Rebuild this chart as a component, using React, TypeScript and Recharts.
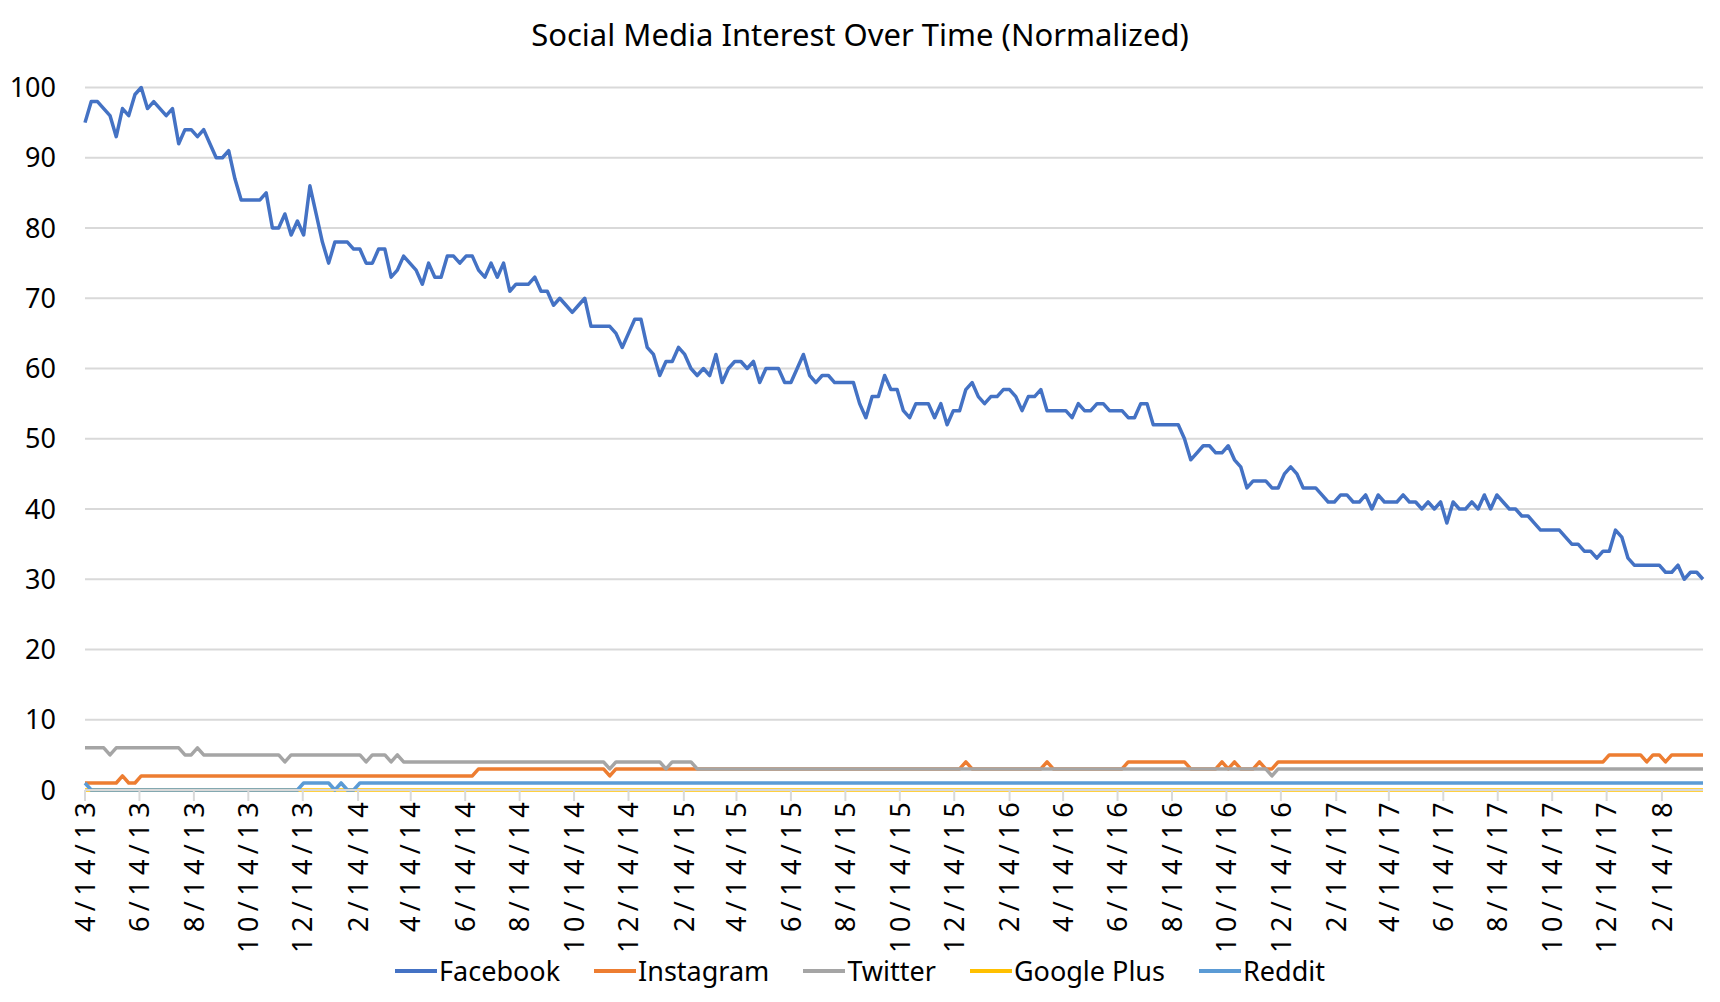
import React from 'react';
import { LineChart, Line, XAxis, YAxis, CartesianGrid } from 'recharts';

// weekly Google Trends style values, first week 4/14/13
const facebook = [
  95, 98, 98, 97, 96, 93, 97, 96, 99, 100, 97, 98, 97, 96, 97, 92, 94, 94, 93, 94, 92, 90, 90, 91, 87, 84,
  84, 84, 84, 85, 80, 80, 82, 79, 81, 79, 86, 82, 78, 75, 78, 78, 78, 77, 77, 75, 75, 77, 77, 73, 74, 76,
  75, 74, 72, 75, 73, 73, 76, 76, 75, 76, 76, 74, 73, 75, 73, 75, 71, 72, 72, 72, 73, 71, 71, 69, 70, 69,
  68, 69, 70, 66, 66, 66, 66, 65, 63, 65, 67, 67, 63, 62, 59, 61, 61, 63, 62, 60, 59, 60, 59, 62, 58, 60,
  61, 61, 60, 61, 58, 60, 60, 60, 58, 58, 60, 62, 59, 58, 59, 59, 58, 58, 58, 58, 55, 53, 56, 56, 59, 57,
  57, 54, 53, 55, 55, 55, 53, 55, 52, 54, 54, 57, 58, 56, 55, 56, 56, 57, 57, 56, 54, 56, 56, 57, 54, 54,
  54, 54, 53, 55, 54, 54, 55, 55, 54, 54, 54, 53, 53, 55, 55, 52, 52, 52, 52, 52, 50, 47, 48, 49, 49, 48,
  48, 49, 47, 46, 43, 44, 44, 44, 43, 43, 45, 46, 45, 43, 43, 43, 42, 41, 41, 42, 42, 41, 41, 42, 40, 42,
  41, 41, 41, 42, 41, 41, 40, 41, 40, 41, 38, 41, 40, 40, 41, 40, 42, 40, 42, 41, 40, 40, 39, 39, 38, 37,
  37, 37, 37, 36, 35, 35, 34, 34, 33, 34, 34, 37, 36, 33, 32, 32, 32, 32, 32, 31, 31, 32, 30, 31, 31, 30,
];

const instagram = [
  1, 1, 1, 1, 1, 1, 2, 1, 1, 2, 2, 2, 2, 2, 2, 2, 2, 2, 2, 2, 2, 2, 2, 2, 2, 2,
  2, 2, 2, 2, 2, 2, 2, 2, 2, 2, 2, 2, 2, 2, 2, 2, 2, 2, 2, 2, 2, 2, 2, 2, 2, 2,
  2, 2, 2, 2, 2, 2, 2, 2, 2, 2, 2, 3, 3, 3, 3, 3, 3, 3, 3, 3, 3, 3, 3, 3, 3, 3,
  3, 3, 3, 3, 3, 3, 2, 3, 3, 3, 3, 3, 3, 3, 3, 3, 3, 3, 3, 3, 3, 3, 3, 3, 3, 3,
  3, 3, 3, 3, 3, 3, 3, 3, 3, 3, 3, 3, 3, 3, 3, 3, 3, 3, 3, 3, 3, 3, 3, 3, 3, 3,
  3, 3, 3, 3, 3, 3, 3, 3, 3, 3, 3, 4, 3, 3, 3, 3, 3, 3, 3, 3, 3, 3, 3, 3, 4, 3,
  3, 3, 3, 3, 3, 3, 3, 3, 3, 3, 3, 4, 4, 4, 4, 4, 4, 4, 4, 4, 4, 3, 3, 3, 3, 3,
  4, 3, 4, 3, 3, 3, 4, 3, 3, 4, 4, 4, 4, 4, 4, 4, 4, 4, 4, 4, 4, 4, 4, 4, 4, 4,
  4, 4, 4, 4, 4, 4, 4, 4, 4, 4, 4, 4, 4, 4, 4, 4, 4, 4, 4, 4, 4, 4, 4, 4, 4, 4,
  4, 4, 4, 4, 4, 4, 4, 4, 4, 4, 5, 5, 5, 5, 5, 5, 4, 5, 5, 4, 5, 5, 5, 5, 5, 5,
];

const twitter = [
  6, 6, 6, 6, 5, 6, 6, 6, 6, 6, 6, 6, 6, 6, 6, 6, 5, 5, 6, 5, 5, 5, 5, 5, 5, 5,
  5, 5, 5, 5, 5, 5, 4, 5, 5, 5, 5, 5, 5, 5, 5, 5, 5, 5, 5, 4, 5, 5, 5, 4, 5, 4,
  4, 4, 4, 4, 4, 4, 4, 4, 4, 4, 4, 4, 4, 4, 4, 4, 4, 4, 4, 4, 4, 4, 4, 4, 4, 4,
  4, 4, 4, 4, 4, 4, 3, 4, 4, 4, 4, 4, 4, 4, 4, 3, 4, 4, 4, 4, 3, 3, 3, 3, 3, 3,
  3, 3, 3, 3, 3, 3, 3, 3, 3, 3, 3, 3, 3, 3, 3, 3, 3, 3, 3, 3, 3, 3, 3, 3, 3, 3,
  3, 3, 3, 3, 3, 3, 3, 3, 3, 3, 3, 3, 3, 3, 3, 3, 3, 3, 3, 3, 3, 3, 3, 3, 3, 3,
  3, 3, 3, 3, 3, 3, 3, 3, 3, 3, 3, 3, 3, 3, 3, 3, 3, 3, 3, 3, 3, 3, 3, 3, 3, 3,
  3, 3, 3, 3, 3, 3, 3, 3, 2, 3, 3, 3, 3, 3, 3, 3, 3, 3, 3, 3, 3, 3, 3, 3, 3, 3,
  3, 3, 3, 3, 3, 3, 3, 3, 3, 3, 3, 3, 3, 3, 3, 3, 3, 3, 3, 3, 3, 3, 3, 3, 3, 3,
  3, 3, 3, 3, 3, 3, 3, 3, 3, 3, 3, 3, 3, 3, 3, 3, 3, 3, 3, 3, 3, 3, 3, 3, 3, 3,
];

const googlePlus = [
  0, 0, 0, 0, 0, 0, 0, 0, 0, 0, 0, 0, 0, 0, 0, 0, 0, 0, 0, 0, 0, 0, 0, 0, 0, 0,
  0, 0, 0, 0, 0, 0, 0, 0, 0, 0, 0, 0, 0, 0, 0, 0, 0, 0, 0, 0, 0, 0, 0, 0, 0, 0,
  0, 0, 0, 0, 0, 0, 0, 0, 0, 0, 0, 0, 0, 0, 0, 0, 0, 0, 0, 0, 0, 0, 0, 0, 0, 0,
  0, 0, 0, 0, 0, 0, 0, 0, 0, 0, 0, 0, 0, 0, 0, 0, 0, 0, 0, 0, 0, 0, 0, 0, 0, 0,
  0, 0, 0, 0, 0, 0, 0, 0, 0, 0, 0, 0, 0, 0, 0, 0, 0, 0, 0, 0, 0, 0, 0, 0, 0, 0,
  0, 0, 0, 0, 0, 0, 0, 0, 0, 0, 0, 0, 0, 0, 0, 0, 0, 0, 0, 0, 0, 0, 0, 0, 0, 0,
  0, 0, 0, 0, 0, 0, 0, 0, 0, 0, 0, 0, 0, 0, 0, 0, 0, 0, 0, 0, 0, 0, 0, 0, 0, 0,
  0, 0, 0, 0, 0, 0, 0, 0, 0, 0, 0, 0, 0, 0, 0, 0, 0, 0, 0, 0, 0, 0, 0, 0, 0, 0,
  0, 0, 0, 0, 0, 0, 0, 0, 0, 0, 0, 0, 0, 0, 0, 0, 0, 0, 0, 0, 0, 0, 0, 0, 0, 0,
  0, 0, 0, 0, 0, 0, 0, 0, 0, 0, 0, 0, 0, 0, 0, 0, 0, 0, 0, 0, 0, 0, 0, 0, 0, 0,
];

const reddit = [
  1, 0, 0, 0, 0, 0, 0, 0, 0, 0, 0, 0, 0, 0, 0, 0, 0, 0, 0, 0, 0, 0, 0, 0, 0, 0,
  0, 0, 0, 0, 0, 0, 0, 0, 0, 1, 1, 1, 1, 1, 0, 1, 0, 0, 1, 1, 1, 1, 1, 1, 1, 1,
  1, 1, 1, 1, 1, 1, 1, 1, 1, 1, 1, 1, 1, 1, 1, 1, 1, 1, 1, 1, 1, 1, 1, 1, 1, 1,
  1, 1, 1, 1, 1, 1, 1, 1, 1, 1, 1, 1, 1, 1, 1, 1, 1, 1, 1, 1, 1, 1, 1, 1, 1, 1,
  1, 1, 1, 1, 1, 1, 1, 1, 1, 1, 1, 1, 1, 1, 1, 1, 1, 1, 1, 1, 1, 1, 1, 1, 1, 1,
  1, 1, 1, 1, 1, 1, 1, 1, 1, 1, 1, 1, 1, 1, 1, 1, 1, 1, 1, 1, 1, 1, 1, 1, 1, 1,
  1, 1, 1, 1, 1, 1, 1, 1, 1, 1, 1, 1, 1, 1, 1, 1, 1, 1, 1, 1, 1, 1, 1, 1, 1, 1,
  1, 1, 1, 1, 1, 1, 1, 1, 1, 1, 1, 1, 1, 1, 1, 1, 1, 1, 1, 1, 1, 1, 1, 1, 1, 1,
  1, 1, 1, 1, 1, 1, 1, 1, 1, 1, 1, 1, 1, 1, 1, 1, 1, 1, 1, 1, 1, 1, 1, 1, 1, 1,
  1, 1, 1, 1, 1, 1, 1, 1, 1, 1, 1, 1, 1, 1, 1, 1, 1, 1, 1, 1, 1, 1, 1, 1, 1, 1,
];

const tickLabels = [
  '4/14/13', '6/14/13', '8/14/13', '10/14/13', '12/14/13', '2/14/14', '4/14/14', '6/14/14',
  '8/14/14', '10/14/14', '12/14/14', '2/14/15', '4/14/15', '6/14/15', '8/14/15', '10/14/15',
  '12/14/15', '2/14/16', '4/14/16', '6/14/16', '8/14/16', '10/14/16', '12/14/16', '2/14/17',
  '4/14/17', '6/14/17', '8/14/17', '10/14/17', '12/14/17', '2/14/18',
];

const yTicks = [0, 10, 20, 30, 40, 50, 60, 70, 80, 90, 100];

const series = [
  { key: 'facebook', name: 'Facebook', color: '#4472C4' },
  { key: 'instagram', name: 'Instagram', color: '#ED7D31' },
  { key: 'twitter', name: 'Twitter', color: '#A5A5A5' },
  { key: 'googlePlus', name: 'Google Plus', color: '#FFC000' },
  { key: 'reddit', name: 'Reddit', color: '#5B9BD5' },
];

const FONT = '"Noto Sans", sans-serif';
const START = Date.UTC(2013, 3, 14);
const DAY = 86400000;

// label -> days since first week
const toDay = (s: string) => {
  const [m, d, y] = s.split('/').map(Number);
  return Math.round((Date.UTC(2000 + y, m - 1, d) - START) / DAY);
};
const tickDays = tickLabels.map(toDay);
const labelByDay: Record<number, string> = {};
tickLabels.forEach((l, i) => (labelByDay[tickDays[i]] = l));

const data = facebook.map((v, i) => ({
  day: i * 7,
  facebook: v,
  instagram: instagram[i],
  twitter: twitter[i],
  googlePlus: googlePlus[i],
  reddit: reddit[i],
}));

const DateTick = (props: any) => {
  const { x, payload } = props;
  const y = props.y - 4;
  return (
    <text
      x={x}
      y={y}
      transform={`rotate(-90, ${x}, ${y})`}
      textAnchor="end"
      dy="0.36em"
      fontSize={27}
      fontFamily={FONT}
      letterSpacing={5.4}
      fill="#000"
    >
      {labelByDay[payload.value]}
    </text>
  );
};

export default function App() {
  return (
    <div style={{ position: 'relative', width: 1720, height: 1002, background: '#fff', fontFamily: FONT }}>
      <style>{'body{margin:0}'}</style>
      <div
        style={{
          position: 'absolute',
          top: 13,
          left: 0,
          width: 1720,
          textAlign: 'center',
          fontSize: 31,
          lineHeight: '42px',
          color: '#000',
        }}
      >
        Social Media Interest Over Time (Normalized)
      </div>
      <LineChart width={1720} height={1002} data={data} margin={{ top: 87.5, right: 17, bottom: 62, left: 0 }}>
        <CartesianGrid horizontal vertical={false} stroke="#d9d9d9" strokeWidth={2} />
        <XAxis
          type="number"
          dataKey="day"
          domain={[0, (facebook.length - 1) * 7]}
          ticks={tickDays}
          interval={0}
          height={150}
          tick={<DateTick />}
          tickSize={11}
          tickMargin={0}
          axisLine={{ stroke: '#d9d9d9', strokeWidth: 2 }}
          tickLine={{ stroke: '#d9d9d9', strokeWidth: 2 }}
        />
        <YAxis
          domain={[0, 100]}
          ticks={yTicks}
          width={85}
          axisLine={false}
          tickLine={false}
          tickSize={0}
          tickMargin={29}
          tick={{ fontSize: 27, fontFamily: FONT, fill: '#000' }}
        />
        {series.map((s) => (
          <Line
            key={s.key}
            type="linear"
            dataKey={s.key}
            name={s.name}
            stroke={s.color}
            strokeWidth={3.5}
            strokeLinejoin="round"
            dot={false}
            activeDot={false}
            isAnimationActive={false}
          />
        ))}
      </LineChart>
      <div
        style={{
          position: 'absolute',
          top: 950,
          left: 0,
          width: 1720,
          display: 'flex',
          justifyContent: 'center',
          gap: 34,
          fontSize: 27,
          lineHeight: '42px',
          color: '#000',
        }}
      >
        {series.map((s) => (
          <div key={s.key} style={{ display: 'flex', alignItems: 'center' }}>
            <span style={{ display: 'inline-block', width: 42, height: 4, background: s.color }} />
            <span style={{ marginLeft: 2 }}>{s.name}</span>
          </div>
        ))}
      </div>
    </div>
  );
}
